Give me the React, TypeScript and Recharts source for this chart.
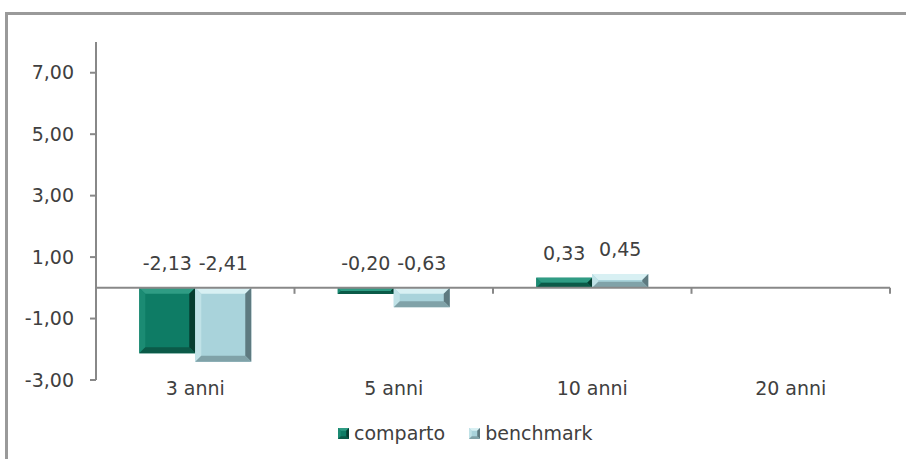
import { BarChart, Bar, XAxis, YAxis, ReferenceLine, Legend, LabelList } from 'recharts';

const categories = ['3 anni', '5 anni', '10 anni', '20 anni'];
const comparto = [-2.13, -0.2, 0.33, null];
const benchmark = [-2.41, -0.63, 0.45, null];
const yTicks = [-3, -1, 1, 3, 5, 7];
const yDomain: [number, number] = [-3, 8];

const chartData = categories.map((name, i) => ({
  name,
  comparto: comparto[i],
  benchmark: benchmark[i],
}));

const FONT = '"DejaVu Sans", sans-serif';
const TEXT = '#404040';
const AXIS = '#888888';

// bevel palettes: base, top, left, right, bottom
const palettes: Record<string, string[]> = {
  comparto: ['#0e7c65', '#2f9c84', '#1b8b73', '#063d30', '#0b5a48'],
  benchmark: ['#a9d3db', '#d8f0f3', '#c0e2e7', '#5e7a80', '#80a2a8'],
};

const fmt = (v: number) => v.toFixed(2).replace('.', ',');

function bevel(x: number, y: number, w: number, h: number, pal: string[], size = 6) {
  const b = Math.max(0, Math.min(size, w / 4, h / 2));
  return (
    <g>
      <rect x={x} y={y} width={w} height={h} fill={pal[0]} />
      <polygon points={`${x},${y} ${x + w},${y} ${x + w - b},${y + b} ${x + b},${y + b}`} fill={pal[1]} />
      <polygon points={`${x},${y} ${x + b},${y + b} ${x + b},${y + h - b} ${x},${y + h}`} fill={pal[2]} />
      <polygon points={`${x + w},${y} ${x + w},${y + h} ${x + w - b},${y + h - b} ${x + w - b},${y + b}`} fill={pal[3]} />
      <polygon points={`${x},${y + h} ${x + w},${y + h} ${x + w - b},${y + h - b} ${x + b},${y + h - b}`} fill={pal[4]} />
    </g>
  );
}

function BevelBar(props: any) {
  const { x, y, width, height, dataKey } = props;
  if (!height || !width) return null;
  const top = height < 0 ? y + height : y;
  return bevel(x, top, width, Math.abs(height), palettes[dataKey]);
}

function ValueLabel(props: any) {
  const { x, y, width, height, value } = props;
  if (value == null) return null;
  const top = Math.min(y, y + height);
  return (
    <text x={x + width / 2} y={top - 18} textAnchor="middle" fontSize={19} fontFamily={FONT} fill={TEXT}>
      {fmt(Number(value))}
    </text>
  );
}

function CategoryTick(props: any) {
  const { x, y, payload } = props;
  return (
    <text x={x} y={y} dy={15} textAnchor="middle" fontSize={19} fontFamily={FONT} fill={TEXT}>
      {payload.value}
    </text>
  );
}

// zero line with tick marks between categories
function ZeroAxis(props: any) {
  const { x1, y1, x2 } = props;
  const n = categories.length;
  const step = (x2 - x1) / n;
  return (
    <g>
      <line x1={x1} y1={y1} x2={x2} y2={y1} stroke={AXIS} strokeWidth={2} />
      {categories.map((_, i) => (
        <line key={i} x1={x1 + (i + 1) * step} y1={y1} x2={x1 + (i + 1) * step} y2={y1 + 6} stroke={AXIS} strokeWidth={2} />
      ))}
    </g>
  );
}

function LegendContent() {
  const items = [
    { key: 'comparto', label: 'comparto' },
    { key: 'benchmark', label: 'benchmark' },
  ];
  return (
    <div style={{ display: 'flex', alignItems: 'center', fontFamily: FONT, fontSize: 19, color: TEXT, lineHeight: '20px' }}>
      {items.map((it, i) => (
        <div key={it.key} style={{ display: 'flex', alignItems: 'center', marginLeft: i ? 24 : 0 }}>
          <svg width={11} height={11} style={{ marginRight: 5 }}>
            {bevel(0, 0, 11, 11, palettes[it.key], 3)}
          </svg>
          <span>{it.label}</span>
        </div>
      ))}
    </div>
  );
}

export default function App() {
  return (
    <div style={{ position: 'absolute', left: 0, top: 0, width: 906, height: 459, background: '#fff', overflow: 'hidden' }}>
      <svg width={906} height={459} style={{ position: 'absolute', left: 0, top: 0 }}>
        <path d="M6.5,470 L6.5,13.5 L920,13.5" fill="none" stroke="#9a9a9a" strokeWidth={3} />
      </svg>
      <BarChart
        width={906}
        height={459}
        data={chartData}
        margin={{ top: 42, right: 16, bottom: 49, left: 0 }}
        barCategoryGap="21.8%"
        barGap={0}
        style={{ position: 'absolute', left: 0, top: 0 }}
      >
        <XAxis dataKey="name" axisLine={false} tickLine={false} tickSize={0} tickMargin={0} height={30} tick={<CategoryTick />} interval={0} />
        <YAxis
          domain={yDomain}
          ticks={yTicks}
          width={96}
          axisLine={{ stroke: AXIS, strokeWidth: 2 }}
          tickLine={{ stroke: AXIS, strokeWidth: 2 }}
          tickSize={6}
          tickMargin={16}
          tickFormatter={fmt}
          tick={{ fontSize: 19, fontFamily: FONT, fill: TEXT }}
          allowDataOverflow
        />
        <Bar dataKey="comparto" name="comparto" shape={<BevelBar />} isAnimationActive={false}>
          <LabelList dataKey="comparto" content={<ValueLabel />} />
        </Bar>
        <Bar dataKey="benchmark" name="benchmark" shape={<BevelBar />} isAnimationActive={false}>
          <LabelList dataKey="benchmark" content={<ValueLabel />} />
        </Bar>
        <ReferenceLine y={0} shape={<ZeroAxis />} />
        <Legend
          verticalAlign="middle"
          align="center"
          content={<LegendContent />}
          wrapperStyle={{ left: 338, top: 423, width: 'auto' }}
        />
      </BarChart>
    </div>
  );
}
